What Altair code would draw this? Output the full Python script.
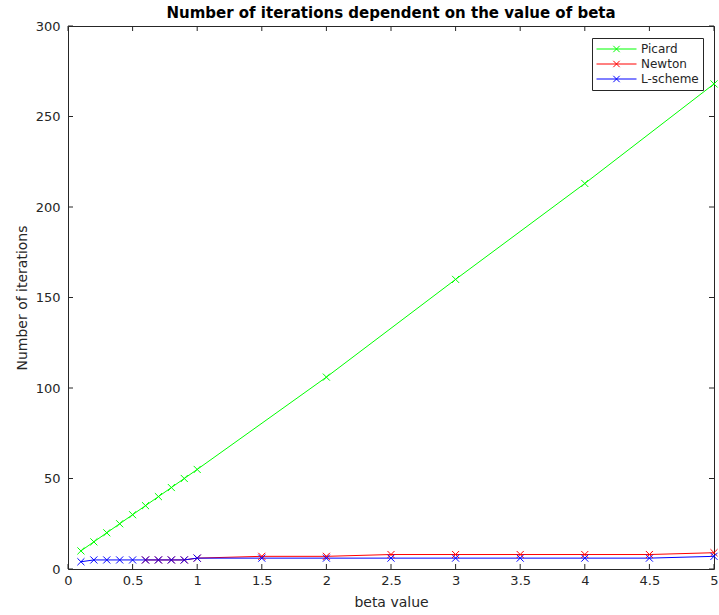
import altair as alt
import pandas as pd

# ---- data ----
beta = [0.1, 0.2, 0.3, 0.4, 0.5, 0.6, 0.7, 0.8, 0.9, 1.0,
        1.5, 2.0, 2.5, 3.0, 3.5, 4.0, 4.5, 5.0]
picard = [10, 15, 20, 25, 30, 35, 40, 45, 50, 55,
          None, 106, None, 160, None, 213, None, 268]
newton = [None, None, None, None, None, 5, 5, 5, 5, 6,
          7, 7, 8, 8, 8, 8, 8, 9]
lscheme = [4, 5, 5, 5, 5, 5, 5, 5, 5, 6,
           6, 6, 6, 6, 6, 6, 6, 7]

series_names = ["Picard", "Newton", "L-scheme"]
series_colors = ["#00ff00", "#ff0000", "#0000ff"]

x_ticks = [0, 0.5, 1, 1.5, 2, 2.5, 3, 3.5, 4, 4.5, 5]
y_ticks = [0, 50, 100, 150, 200, 250, 300]

rows = []
for name, vals in zip(series_names, [picard, newton, lscheme]):
    for b, v in zip(beta, vals):
        if v is not None:
            rows.append({"beta": b, "iters": v, "series": name})
df = pd.DataFrame(rows)
xt = pd.DataFrame({"beta": x_ticks})
yt = pd.DataFrame({"iters": y_ticks})

W, H = 646, 543
FONT = "DejaVu Sans"
TXT = "#262626"

xscale = alt.Scale(domain=[0, 5], nice=False, zero=False)
yscale = alt.Scale(domain=[0, 300], nice=False)
cscale = alt.Scale(domain=series_names, range=series_colors)

X_PATH = "M-1,-1L1,1M-1,1L1,-1"
LEG_PATH = "M-1,0L1,0M-0.16,-0.16L0.16,0.16M-0.16,0.16L0.16,-0.16"

xaxis = alt.Axis(title="beta value", values=x_ticks, format="~g", grid=False,
                 domain=False, ticks=False, labelPadding=5, titlePadding=8,
                 labelFlush=False,
                 labelFont=FONT, labelFontSize=13, labelColor=TXT,
                 titleFont=FONT, titleFontSize=14, titleColor=TXT,
                 titleFontWeight="normal")
yaxis = alt.Axis(title="Number of iterations", values=y_ticks, grid=False,
                 domain=False, ticks=False, labelPadding=8, titlePadding=6,
                 labelFont=FONT, labelFontSize=13, labelColor=TXT,
                 titleFont=FONT, titleFontSize=14, titleColor=TXT,
                 titleFontWeight="normal")

legend = alt.Legend(
    title=None, orient="none", legendX=524, legendY=12,
    symbolType=LEG_PATH, symbolSize=1600, clipHeight=14,
    symbolStrokeWidth=1, symbolFillColor="transparent",
    labelFont=FONT, labelFontSize=12, labelColor=TXT,
    labelOffset=4, rowPadding=1, padding=4,
    strokeColor="#262626", fillColor="white",
)

X = alt.X("beta:Q", scale=xscale, axis=xaxis)
Y = alt.Y("iters:Q", scale=yscale, axis=yaxis)
C = alt.Color("series:N", scale=cscale, legend=legend)

layers = []
for name in series_names:
    layers.append(
        alt.Chart(df[df.series == name]).mark_line(strokeWidth=1).encode(
            x=X, y=Y, color=C)
    )

points = alt.Chart(df).mark_point(shape=X_PATH, size=50, filled=False,
                                  strokeWidth=1, opacity=1).encode(
    x=X, y=Y, color=C)

tick_len = 5
xt_bottom = alt.Chart(xt).mark_rule(color="#262626", strokeWidth=1).encode(
    x=X, y=alt.value(H), y2=alt.value(H - tick_len))
xt_top = alt.Chart(xt).mark_rule(color="#262626", strokeWidth=1).encode(
    x=X, y=alt.value(0), y2=alt.value(tick_len))
yt_left = alt.Chart(yt).mark_rule(color="#262626", strokeWidth=1).encode(
    y=Y, x=alt.value(0), x2=alt.value(tick_len))
yt_right = alt.Chart(yt).mark_rule(color="#262626", strokeWidth=1).encode(
    y=Y, x=alt.value(W - tick_len), x2=alt.value(W))

chart = alt.layer(*layers, points, xt_bottom, xt_top, yt_left, yt_right).properties(
    width=W, height=H,
    background="white",
    title=alt.TitleParams(
        "Number of iterations dependent on the value of beta",
        font=FONT, fontSize=15, fontWeight="bold",
        color="black", anchor="middle", offset=-1,
    ),
    autosize=alt.AutoSizeParams(type="none"),
    padding={"left": 68, "top": 26, "right": 5, "bottom": 46},
).configure_view(
    stroke="#262626", strokeWidth=1
)

chart.save("out.html", embed_options={"renderer": "svg", "actions": False})
